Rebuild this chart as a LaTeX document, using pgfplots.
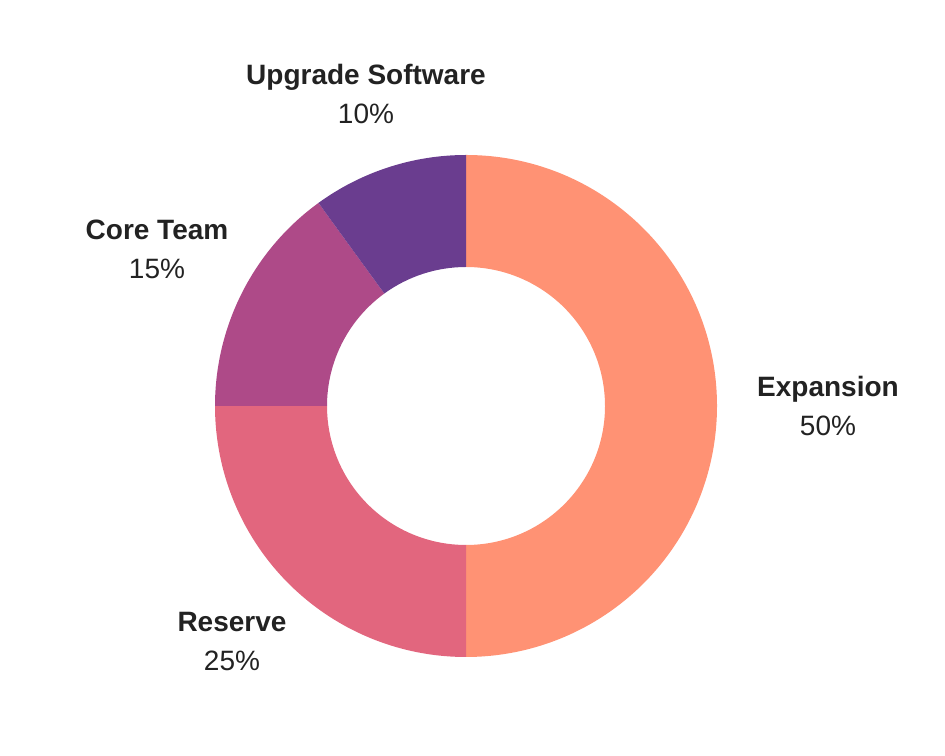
\documentclass[border=0pt]{standalone}
\usepackage{pgfplots}
\pgfplotsset{compat=1.18}
\usepackage{fontspec}
\setmainfont{Liberation Sans}
\definecolor{expc}{HTML}{FF9274}
\definecolor{resc}{HTML}{E2667E}
\definecolor{corec}{HTML}{AE4A88}
\definecolor{upc}{HTML}{6A3D8F}
\definecolor{txt}{HTML}{222222}
% slice values (percent)
\def\vExp{50}\def\vRes{25}\def\vCore{15}\def\vUp{10}
\pgfmathsetmacro\aA{90}
\pgfmathsetmacro\aB{\aA-3.6*\vExp}
\pgfmathsetmacro\aC{\aB-3.6*\vRes}
\pgfmathsetmacro\aD{\aC-3.6*\vCore}
\pgfmathsetmacro\aE{\aD-3.6*\vUp}
\def\Ro{188.25pt}\def\Ri{104.25pt}
\newcommand{\slice}[3]{%
  \fill[#3] ([shift={(#1:\Ro)}]axis cs:466,350) arc[start angle=#1, end angle=#2, radius=\Ro]
    -- ([shift={(#2:\Ri)}]axis cs:466,350) arc[start angle=#2, end angle=#1, radius=\Ri] -- cycle;}
\begin{document}
\begin{tikzpicture}
\begin{axis}[x=0.75pt,y=0.75pt,xmin=0,xmax=945,ymin=0,ymax=756,
  hide axis, scale only axis, clip=false]
\addplot[draw=none] coordinates {(0,0) (945,756)};
\slice{\aA}{\aB}{expc}
\slice{\aB}{\aC}{resc}
\slice{\aC}{\aD}{corec}
\slice{\aD}{\aE}{upc}
\tikzset{lab/.style={anchor=base, text=txt, font=\fontsize{21}{25}\selectfont\bfseries, inner sep=0pt},
         pct/.style={anchor=base, text=txt, font=\fontsize{21}{25}\selectfont, inner sep=0pt}}
\node[lab] at (axis cs:366,671) {Upgrade Software};
\node[pct] at (axis cs:366,632) {\vUp\%};
\node[lab] at (axis cs:157,516) {Core Team};
\node[pct] at (axis cs:157,477) {\vCore\%};
\node[lab] at (axis cs:828,359) {Expansion};
\node[pct] at (axis cs:828,320) {\vExp\%};
\node[lab] at (axis cs:232,124) {Reserve};
\node[pct] at (axis cs:232,85) {\vRes\%};
\end{axis}
\end{tikzpicture}
\end{document}
